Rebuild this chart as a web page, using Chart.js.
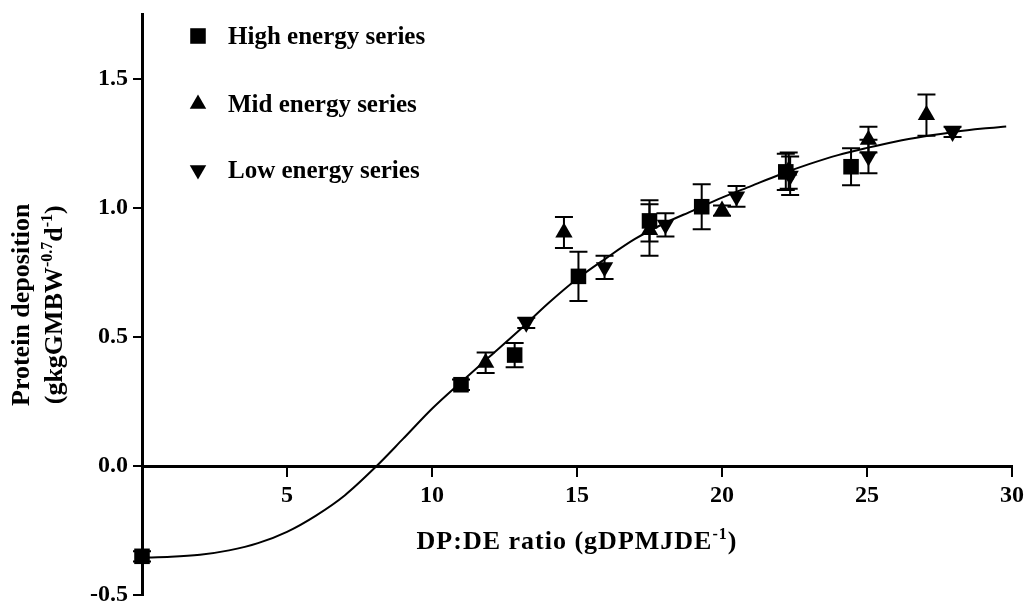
<!DOCTYPE html>
<html lang="en">
<head>
<meta charset="UTF-8">
<title>Protein deposition vs DP:DE ratio</title>
<script src="https://cdn.jsdelivr.net/npm/chart.js"></script>
<style>
  html, body { margin: 0; padding: 0; background: #fff; }
  #wrap { width: 1027px; height: 607px; }
</style>
</head>
<body>
<div id="wrap"><canvas id="chart" width="1027" height="607"></canvas></div>
<script>
// tick labels
const xTicks = [0, 5, 10, 15, 20, 25, 30];
const yTicks = [-0.5, 0.0, 0.5, 1.0, 1.5];

// series, err = +/- SE
const highX = [0, 11.0, 12.85, 15.05, 17.5, 19.3, 22.2, 24.45];
const highY = [-0.35, 0.315, 0.43, 0.735, 0.95, 1.005, 1.14, 1.16];
const highErr = [0.02, 0.02, 0.047, 0.095, 0.08, 0.087, 0.07, 0.072];

const midX = [11.85, 14.55, 17.5, 20.0, 22.3, 25.05, 27.05];
const midY = [0.40, 0.905, 0.915, 0.99, 1.145, 1.265, 1.36];
const midErr = [0.04, 0.06, 0.10, 0.02, 0.07, 0.05, 0.08];

const lowX = [13.25, 15.95, 18.05, 20.5, 22.35, 25.05, 27.95];
const lowY = [0.555, 0.77, 0.935, 1.045, 1.125, 1.20, 1.295];
const lowErr = [0.02, 0.045, 0.045, 0.04, 0.075, 0.065, 0.02];

// fitted curve
const fitX = [0, 1, 2, 3, 4, 5, 6, 7, 8, 9, 10, 11, 12, 13, 14, 15, 16, 17, 18, 19, 20, 21, 22, 23, 24, 25, 26, 27, 28, 29, 29.8];
const fitY = [-0.355, -0.352, -0.344, -0.327, -0.299, -0.255, -0.192, -0.113, -0.01, 0.105, 0.222, 0.325, 0.425, 0.525, 0.63, 0.725, 0.805, 0.88, 0.94, 0.99, 1.04, 1.085, 1.13, 1.17, 1.205, 1.233, 1.258, 1.278, 1.295, 1.308, 1.316];

const seriesNames = ['High energy series', 'Mid energy series', 'Low energy series'];

const SERIF = '"Liberation Serif", "Times New Roman", serif';
const toPts = (xs, ys) => xs.map((x, i) => ({x: x, y: ys[i]}));

// vertical error bars with caps, under the markers
const errorBars = {
    id: 'errorBars',
    beforeDatasetsDraw(chart) {
        const ctx = chart.ctx;
        const xs = chart.scales.x, ys = chart.scales.y;
        ctx.save();
        ctx.strokeStyle = '#000';
        ctx.lineWidth = 2;
        chart.data.datasets.forEach(ds => {
            if (!ds.err) return;
            ds.data.forEach((p, i) => {
                const e = ds.err[i];
                const px = xs.getPixelForValue(p.x);
                const top = ys.getPixelForValue(p.y + e);
                const bot = ys.getPixelForValue(p.y - e);
                ctx.beginPath();
                ctx.moveTo(px, top); ctx.lineTo(px, bot);
                ctx.moveTo(px - 9, top); ctx.lineTo(px + 9, top);
                ctx.moveTo(px - 9, bot); ctx.lineTo(px + 9, bot);
                ctx.stroke();
            });
        });
        ctx.restore();
    }
};

// text with superscripts, centred on cx, baseline at by
function drawRich(ctx, parts, cx, by, size, spacing) {
    const big = 'bold ' + size + 'px ' + SERIF;
    const small = 'bold ' + Math.round(size * 0.62) + 'px ' + SERIF;
    ctx.letterSpacing = (spacing || 0) + 'px';
    let w = 0;
    parts.forEach(p => { ctx.font = p.sup ? small : big; p.w = ctx.measureText(p.t).width; w += p.w; });
    let x = cx - w / 2;
    ctx.textAlign = 'left';
    ctx.textBaseline = 'alphabetic';
    parts.forEach(p => {
        ctx.font = p.sup ? small : big;
        ctx.fillText(p.t, x, by - (p.sup ? size * 0.4 : 0));
        x += p.w;
    });
    ctx.letterSpacing = '0px';
}

// axis titles + legend
const decorations = {
    id: 'decorations',
    afterDraw(chart) {
        const ctx = chart.ctx;
        const area = chart.chartArea;
        const midX = (area.left + area.right) / 2;
        const midY = (area.top + area.bottom) / 2;
        ctx.save();
        ctx.fillStyle = '#000';

        drawRich(ctx, [{t: 'DP:DE ratio (gDPMJDE'}, {t: '-1', sup: true}, {t: ')'}], midX, 549, 26, 1);

        ctx.save();
        ctx.translate(29, midY);
        ctx.rotate(-Math.PI / 2);
        drawRich(ctx, [{t: 'Protein deposition'}], 0, 0, 26);
        ctx.restore();
        ctx.save();
        ctx.translate(62, midY);
        ctx.rotate(-Math.PI / 2);
        drawRich(ctx, [{t: '(gkgGMBW'}, {t: '-0.7', sup: true}, {t: 'd'}, {t: '-1', sup: true}, {t: ')'}], 0, 0, 26);
        ctx.restore();

        // legend
        const rows = [36, 104, 170];
        const bases = [44, 112, 178];
        chart.data.datasets.forEach(ds => {
            const k = seriesNames.indexOf(ds.label);
            if (k < 0) return;
            Chart.helpers.drawPoint(ctx, {
                pointStyle: ds.pointStyle,
                radius: ds.pointStyle === 'rect' ? 11 : 9.5,
                rotation: ds.pointRotation || 0,
                borderWidth: 0
            }, 198, rows[k]);
            ctx.font = 'bold 25px ' + SERIF;
            ctx.textAlign = 'left';
            ctx.textBaseline = 'alphabetic';
            ctx.fillText(ds.label, 228, bases[k]);
        });
        ctx.restore();
    }
};

const tickFont = {family: SERIF, size: 24, weight: 'bold', lineHeight: 1};

new Chart(document.getElementById('chart'), {
    type: 'scatter',
    data: {
        datasets: [
            {
                label: 'fit',
                data: toPts(fitX, fitY),
                showLine: true,
                borderColor: '#000',
                borderWidth: 2,
                pointRadius: 0,
                cubicInterpolationMode: 'monotone',
                fill: false,
                clip: false,
                order: 5
            },
            {
                label: seriesNames[0],
                data: toPts(highX, highY),
                err: highErr,
                pointStyle: 'rect',
                pointRadius: 11,
                backgroundColor: '#000',
                borderColor: '#000',
                borderWidth: 0,
                clip: false
            },
            {
                label: seriesNames[1],
                data: toPts(midX, midY),
                err: midErr,
                pointStyle: 'triangle',
                pointRadius: 10,
                backgroundColor: '#000',
                borderColor: '#000',
                borderWidth: 0,
                clip: false
            },
            {
                label: seriesNames[2],
                data: toPts(lowX, lowY),
                err: lowErr,
                pointStyle: 'triangle',
                pointRotation: 180,
                pointRadius: 10,
                backgroundColor: '#000',
                borderColor: '#000',
                borderWidth: 0,
                clip: false
            }
        ]
    },
    options: {
        responsive: false,
        animation: false,
        devicePixelRatio: 1,
        layout: {padding: {left: 0, right: 15, top: 14.5, bottom: 12}},
        plugins: {
            legend: {display: false},
            tooltip: {enabled: false}
        },
        scales: {
            x: {
                type: 'linear',
                position: {y: 0},
                min: 0,
                max: 30,
                afterFit: s => { s.paddingLeft = 0; s.paddingRight = 0; s.paddingTop = 0; s.paddingBottom = 0; },
                afterBuildTicks: s => { s.ticks = xTicks.map(v => ({value: v})); },
                ticks: {
                    callback: v => (v === 0 ? '' : v),
                    color: '#000',
                    font: tickFont,
                    padding: 9,
                    maxRotation: 0
                },
                grid: {drawOnChartArea: false, drawTicks: true, tickLength: 9, color: '#000', lineWidth: 2, tickWidth: 2},
                border: {display: true, color: '#000', width: 3}
            },
            y: {
                type: 'linear',
                min: -0.5,
                max: 1.75,
                afterFit: s => { s.width = 142; s.paddingTop = 0; s.paddingBottom = 0; },
                afterBuildTicks: s => { s.ticks = yTicks.map(v => ({value: v})); },
                ticks: {
                    callback: v => v.toFixed(1),
                    color: '#000',
                    font: tickFont,
                    padding: 5
                },
                grid: {drawOnChartArea: false, drawTicks: true, tickLength: 9, color: '#000', lineWidth: 2, tickWidth: 2},
                border: {display: true, color: '#000', width: 3}
            }
        }
    },
    plugins: [errorBars, decorations]
});
</script>
</body>
</html>
